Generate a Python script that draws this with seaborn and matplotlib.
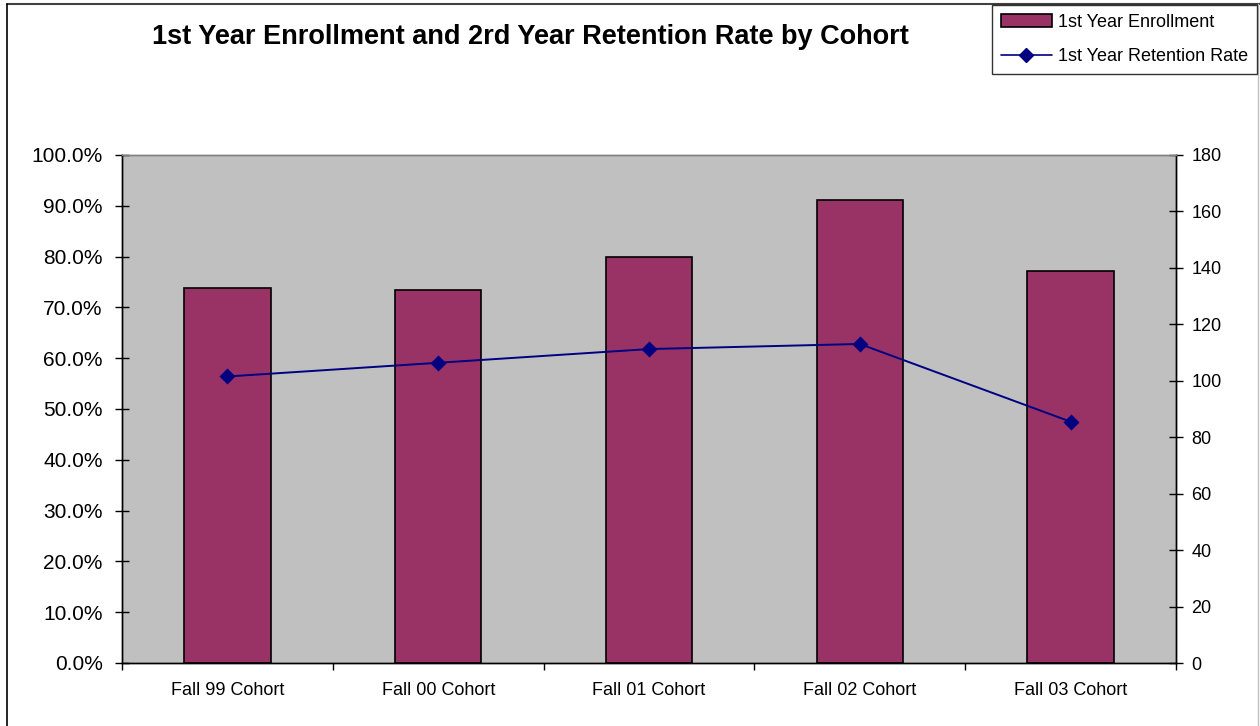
import matplotlib
matplotlib.use("Agg")
import matplotlib.pyplot as plt
import matplotlib.ticker as mticker
from matplotlib.lines import Line2D
import seaborn as sns
import pandas as pd

# chart data
cohorts = ["Fall 99 Cohort", "Fall 00 Cohort", "Fall 01 Cohort", "Fall 02 Cohort", "Fall 03 Cohort"]
enrollment = [133, 132, 144, 164, 139]
retention = [0.564, 0.591, 0.618, 0.628, 0.475]

bar_color = "#993366"
line_color = "#000080"

sns.set_style("white")
plt.rcParams["font.family"] = ["Liberation Sans", "DejaVu Sans"]
plt.rcParams.update({"text.color": "black", "axes.labelcolor": "black",
                     "xtick.color": "black", "ytick.color": "black"})

df = pd.DataFrame({"cohort": cohorts, "enrollment": enrollment, "retention": retention})

fig = plt.figure(figsize=(12.6, 7.26), dpi=100)
ax = fig.add_axes([122 / 1260, 1 - 663 / 726, (1176 - 122) / 1260, (663 - 155) / 726])
ax.set_facecolor("#C0C0C0")

# bars on the primary axes, their scale shown on the right
sns.barplot(data=df, x="cohort", y="enrollment", color=bar_color, saturation=1,
            edgecolor="black", linewidth=1.2, width=0.41, ax=ax)

# retention line on the twin axes, scale on the left
ax2 = ax.twinx()
sns.pointplot(data=df, x="cohort", y="retention", color=line_color, markers="D",
              markersize=7, linewidth=1.4, ax=ax2)
if ax2.get_legend() is not None:
    ax2.get_legend().remove()

ax.set_ylim(0, 180)
ax.set_yticks(range(0, 181, 20))
ax.yaxis.set_ticks_position("right")
ax.yaxis.set_label_position("right")
ax.tick_params(axis="y", which="major", direction="inout", length=10, width=1,
               labelsize=13, pad=6, right=True, left=False, labelright=True, labelleft=False)

ax2.set_ylim(0, 1.0)
ax2.set_yticks([i / 10 for i in range(11)])
ax2.yaxis.set_major_formatter(mticker.PercentFormatter(1.0, decimals=1))
ax2.yaxis.set_ticks_position("left")
ax2.yaxis.set_label_position("left")
ax2.tick_params(axis="y", which="major", direction="inout", length=10, width=1,
                labelsize=15, pad=9, left=True, right=False, labelleft=True, labelright=False)

for a in (ax, ax2):
    a.set_xlim(-0.5, len(cohorts) - 0.5)
    a.set_xlabel("")
    a.set_ylabel("")
    a.grid(False)

ax.set_xticks(range(len(cohorts)))
ax.set_xticklabels(cohorts)
ax.set_xticks([i - 0.5 for i in range(len(cohorts) + 1)], minor=True)
ax.tick_params(axis="x", which="major", length=0, labelsize=13, pad=14)
ax.tick_params(axis="x", which="minor", direction="out", length=5, width=1, bottom=True)

for a in (ax, ax2):
    for side in ("left", "right", "bottom"):
        a.spines[side].set_visible(True)
        a.spines[side].set_color("black")
        a.spines[side].set_linewidth(1)
    a.spines["top"].set_visible(True)
    a.spines["top"].set_color("#808080")
    a.spines["top"].set_linewidth(1)

fig.suptitle("1st Year Enrollment and 2rd Year Retention Rate by Cohort",
             x=530 / 1260, y=1 - 37 / 726, va="center", fontsize=19.5,
             fontweight="bold", color="black")

handles = [
    plt.Rectangle((0, 0), 1, 1, facecolor=bar_color, edgecolor="black", linewidth=1.2),
    Line2D([], [], color=line_color, marker="D", markersize=7, linewidth=1.2),
]
leg = fig.legend(handles, ["1st Year Enrollment", "1st Year Retention Rate"],
                 loc="upper right", bbox_to_anchor=(1257 / 1260, 1 - 5 / 726),
                 frameon=True, fancybox=False, fontsize=13, handlelength=2.8,
                 handletextpad=0.35, borderpad=0.5, labelspacing=0.95, borderaxespad=0)
leg.get_frame().set_edgecolor("black")
leg.get_frame().set_linewidth(1)
for t in leg.get_texts():
    t.set_color("black")

# outer chart border
fig.add_artist(Line2D([7 / 1260, 1], [1 - 4 / 726, 1 - 4 / 726], color="#404040", linewidth=1.5))
fig.add_artist(Line2D([7 / 1260, 7 / 1260], [0, 1 - 4 / 726], color="black", linewidth=1.2))
fig.add_artist(Line2D([1258 / 1260, 1258 / 1260], [0, 1 - 4 / 726], color="#C0C0C0", linewidth=1))

fig.savefig("out.png", dpi=100)
